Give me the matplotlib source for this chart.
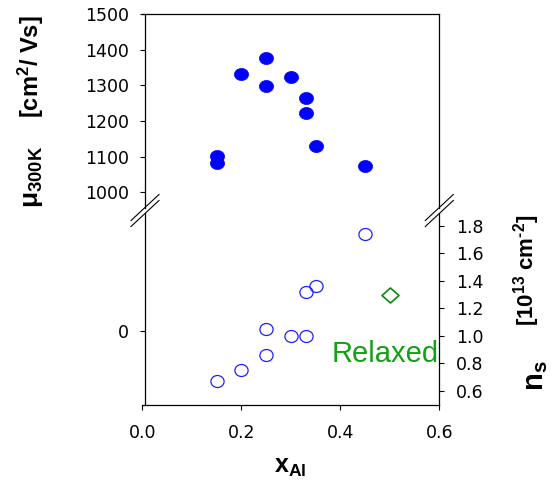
import matplotlib
matplotlib.use("Agg")
import matplotlib.pyplot as plt
from matplotlib.path import Path
from matplotlib.transforms import Affine2D
from matplotlib.lines import Line2D

# ---- data -------------------------------------------------------------
x_mu = [0.15, 0.15, 0.20, 0.25, 0.25, 0.30, 0.33, 0.33, 0.35, 0.45]
mu_300k = [1103, 1081, 1331, 1378, 1298, 1322, 1265, 1222, 1131, 1074]

x_ns = [0.15, 0.20, 0.25, 0.25, 0.30, 0.33, 0.33, 0.35, 0.45]
ns = [0.67, 0.75, 0.86, 1.05, 1.00, 1.00, 1.32, 1.36, 1.74]

x_relaxed = [0.50]
ns_relaxed = [1.30]

x_ticks = [0.0, 0.2, 0.4, 0.6]
mu_ticks = [1000, 1100, 1200, 1300, 1400, 1500]
ns_ticks = [0.6, 0.8, 1.0, 1.2, 1.4, 1.6, 1.8]
lower_left_ticks = [0]

# ---- style ------------------------------------------------------------
plt.rcParams["font.family"] = ["DejaVu Sans"]
plt.rcParams["mathtext.fontset"] = "custom"
plt.rcParams["mathtext.rm"] = "Liberation Sans"
plt.rcParams["mathtext.it"] = "Liberation Sans:italic"
plt.rcParams["mathtext.bf"] = "Liberation Sans:bold"

W_PX, H_PX = 552, 480
fig = plt.figure(figsize=(W_PX / 100, H_PX / 100), dpi=100)


def fx(px):
    return px / W_PX


def fy(py):
    return 1 - py / H_PX


X0, X1 = 142.3, 439.3
TOP_Y0, TOP_Y1 = 14, 208
BOT_Y0, BOT_Y1 = 213, 405

ax_top = fig.add_axes([fx(X0), fy(TOP_Y1), fx(X1 - X0), (TOP_Y1 - TOP_Y0) / H_PX])
ax_bot = fig.add_axes([fx(X0), fy(BOT_Y1), fx(X1 - X0), (BOT_Y1 - BOT_Y0) / H_PX])
ax_ns = ax_bot.twinx()

spine_lw = 0.9
tick_kw = dict(direction="out", length=3.6, width=0.8, labelsize=12.5, colors="black")

# oval marker shapes
circle = Path.unit_circle()
filled_oval = circle.transformed(Affine2D().scale(1.17, 1.0))
open_oval = circle.transformed(Affine2D().scale(1.1, 1.0))
diamond = Path([(-1.13, 0), (0, 1), (1.13, 0), (0, -1), (-1.13, 0)],
               [Path.MOVETO, Path.LINETO, Path.LINETO, Path.LINETO, Path.CLOSEPOLY])

# ---- upper panel: mobility ---------------------------------------------
ax_top.plot(x_mu, mu_300k, linestyle="none", marker=filled_oval, ms=10.2,
            mfc="#0000ff", mec="#0000ff", mew=0.5)
ax_top.set_xlim(0, 0.6)
ax_top.set_ylim(956, 1500)
ax_top.set_yticks(mu_ticks)
ax_top.set_xticks([])
ax_top.spines["bottom"].set_visible(False)
ax_top.spines["left"].set_position(("data", 0.0055))
for s in ax_top.spines.values():
    s.set_linewidth(spine_lw)
ax_top.tick_params(axis="y", pad=8, **tick_kw)

# ---- lower panel: sheet density ---------------------------------------
ax_bot.set_xlim(0, 0.6)
ax_bot.set_ylim(-0.385, 0.615)
ax_bot.set_yticks(lower_left_ticks)
ax_bot.set_yticklabels([str(v) for v in lower_left_ticks])
ax_bot.set_xticks(x_ticks)
ax_bot.set_xticklabels([f"{v:.1f}" for v in x_ticks])
ax_bot.spines["top"].set_visible(False)
ax_bot.spines["right"].set_visible(False)
ax_bot.spines["left"].set_position(("data", 0.0055))
for s in ax_bot.spines.values():
    s.set_linewidth(spine_lw)
ax_bot.tick_params(axis="y", pad=8, **tick_kw)
ax_bot.tick_params(axis="x", pad=10, **tick_kw)

ax_ns.plot(x_ns, ns, linestyle="none", marker=open_oval, ms=9.5,
           mfc="none", mec="#1f1fff", mew=0.9)
ax_ns.plot(x_relaxed, ns_relaxed, linestyle="none", marker=diamond, ms=12.2,
           mfc="none", mec="#0a8a0a", mew=1.2)
ax_ns.set_ylim(0.498, 1.892)
ax_ns.set_yticks(ns_ticks)
ax_ns.set_yticklabels([f"{v:.1f}" for v in ns_ticks])
for side in ("left", "top", "bottom"):
    ax_ns.spines[side].set_visible(False)
ax_ns.spines["right"].set_linewidth(spine_lw)
ax_ns.tick_params(axis="y", pad=8.5, **tick_kw)

ax_ns.text(0.383, 0.813, "Relaxed", color="#14a014", fontsize=21,
           family="Liberation Sans", ha="left", va="baseline")

# ---- axis break marks ---------------------------------------------------
for cx in (145.0, X1):
    for cy in (207.5, 213.5):
        fig.add_artist(Line2D([fx(cx - 14), fx(cx + 14)], [fy(cy + 13), fy(cy - 13)],
                              color="black", lw=0.8, transform=fig.transFigure))

# ---- axis titles --------------------------------------------------------
fig.text(fx(31), fy(66.5), r"$\mathbf{[cm^{2}/\ Vs]}$", rotation=90,
         ha="center", va="center", fontsize=17)
fig.text(fx(32), fy(177), r"$\mathbf{\mu_{300K}}$", rotation=90,
         ha="center", va="center", fontsize=19)
fig.text(fx(527), fy(270), "$\\mathbf{[10^{13}\\ cm^{\u2010 2}]}$", rotation=90,
         ha="center", va="center", fontsize=16)
fig.text(fx(536), fy(376), r"$\mathbf{n_{s}}$", rotation=90,
         ha="center", va="center", fontsize=21)
fig.text(fx(290), fy(473), r"$\mathbf{x_{Al}}$", ha="center", va="baseline",
         fontsize=18)

fig.savefig("out.png", dpi=100)
